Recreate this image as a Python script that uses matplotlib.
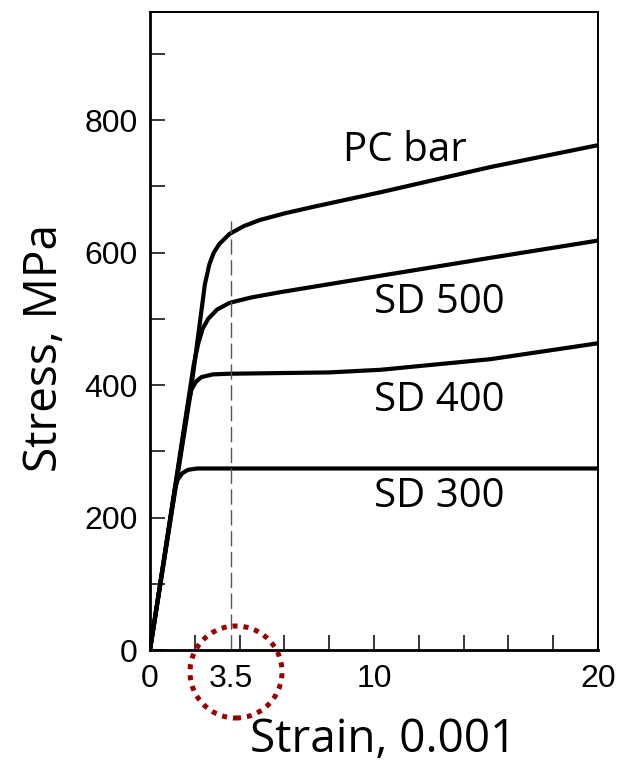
import matplotlib
matplotlib.use("Agg")
import matplotlib.pyplot as plt
from matplotlib.patches import Ellipse

# stress-strain curves (strain in 0.001, stress in MPa)
pc_x = [0, 1.8, 2.25, 2.45, 2.65, 2.85, 3.1, 3.55, 4.2, 4.9, 6.0, 7.3, 10.3, 15.2, 20]
pc_y = [0, 385, 500, 552, 582, 600, 613, 628, 640, 649, 659, 669, 691, 729, 762]

sd500_x = [0, 1.95, 2.15, 2.35, 2.6, 3.0, 3.55, 4.5, 5.8, 10.3, 15.2, 20]
sd500_y = [0, 430, 462, 485, 500, 514, 524, 532, 540, 565, 592, 618]

sd400_x = [0, 1.7, 1.85, 2.05, 2.3, 2.8, 3.5, 8.0, 10.3, 15.2, 20]
sd400_y = [0, 370, 393, 405, 412, 416, 417, 419, 423, 439, 463]

sd300_x = [0, 1.12, 1.25, 1.45, 1.7, 2.1, 20]
sd300_y = [0, 245, 258, 267, 272, 274, 274]

labels = ["PC bar", "SD 500", "SD 400", "SD 300"]
label_x = [11.4, 12.9, 12.9, 12.9]
label_y = [753, 524, 376, 231]

mark_strain = 3.6
mark_text = "3.5"

fig = plt.figure(figsize=(6.18, 7.65), dpi=100)
ax = fig.add_axes([0.2427, 0.1503, 0.7249, 0.834])

for xs, ys in [(pc_x, pc_y), (sd500_x, sd500_y), (sd400_x, sd400_y), (sd300_x, sd300_y)]:
    ax.plot(xs, ys, color="black", lw=3.0, solid_joinstyle="round", solid_capstyle="round")

ax.plot([mark_strain, mark_strain], [0, 648], color="#555555", lw=1.0, dashes=(11, 4))

for t, x, y in zip(labels, label_x, label_y):
    ax.text(x, y, t, fontsize=29, family="Open Sans", ha="center", va="center")

ax.set_xlim(0, 20)
ax.set_ylim(0, 963)
ax.set_xticks([0, mark_strain, 10, 20])
ax.set_xticklabels(["0", mark_text, "10", "20"])
ax.set_xticks([2, 4, 6, 8, 12, 14, 16, 18], minor=True)
ax.set_yticks([0, 200, 400, 600, 800])
ax.set_yticks([100, 300, 500, 700, 900], minor=True)
ax.tick_params(which="both", direction="in", length=11, width=1.1, top=False, right=False)
ax.tick_params(axis="x", pad=10)
ax.tick_params(axis="y", pad=9)
ax.xaxis.get_major_ticks()[1].tick1line.set_markersize(0)
for lab in ax.get_xticklabels() + ax.get_yticklabels():
    lab.set_family("Liberation Sans")
    lab.set_fontsize(23)

for s in ["left", "bottom"]:
    ax.spines[s].set_linewidth(2.0)
for s in ["top", "right"]:
    ax.spines[s].set_linewidth(1.4)

ax.set_xlabel("Strain, 0.001", fontsize=33, family="Open Sans", labelpad=20)
ax.xaxis.set_label_coords(0.52, -0.105)
ax.set_ylabel("Stress, MPa", fontsize=33, family="Open Sans")
ax.yaxis.set_label_coords(-0.184, 0.473)

# dotted red circle around the 3.5 mark
circ = Ellipse((236 / 618, 1 - 672 / 765), 92 / 618, 92 / 765, transform=fig.transFigure,
               fill=False, edgecolor="#990000", lw=3.6, linestyle=(0, (1, 1.2)), clip_on=False)
fig.add_artist(circ)

fig.savefig("out.png", dpi=100)
